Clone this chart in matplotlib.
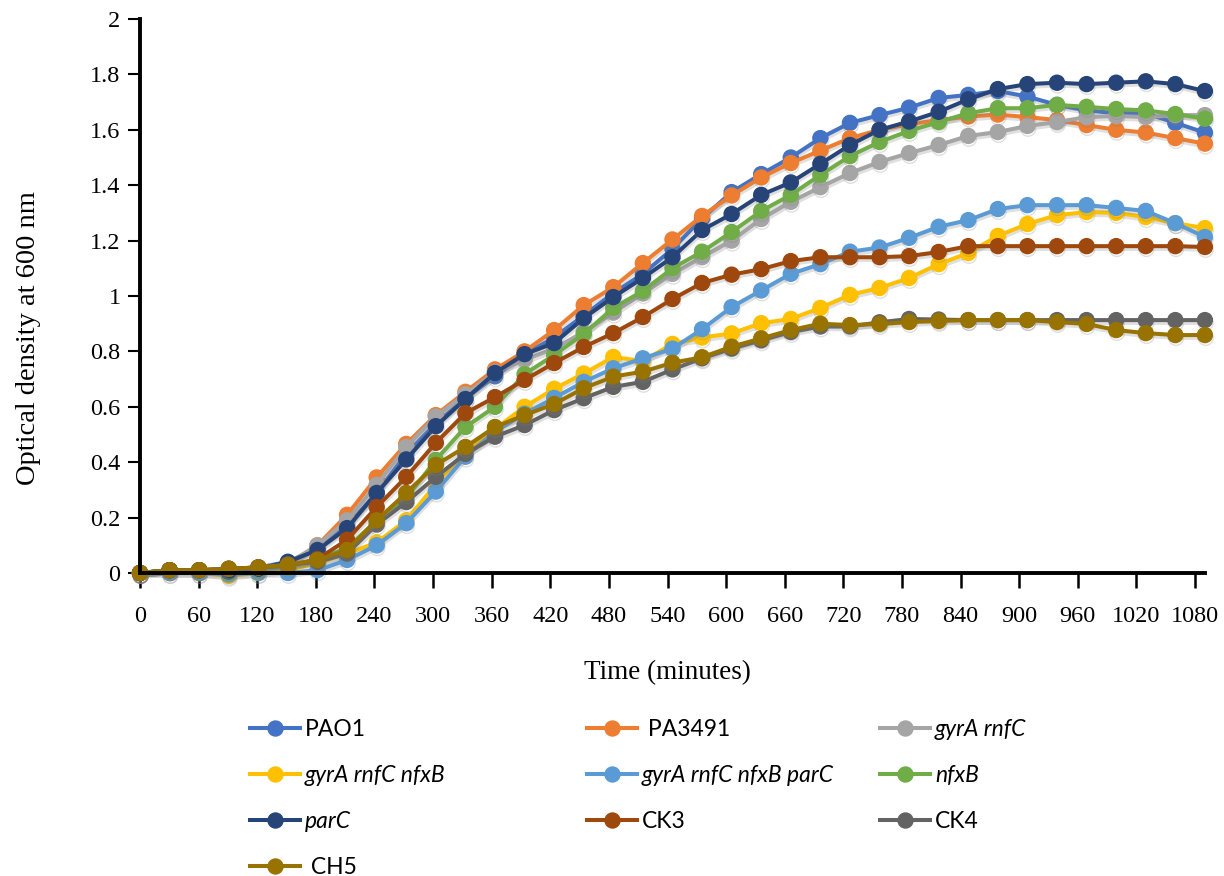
import numpy as np
import matplotlib
matplotlib.use("Agg")
import matplotlib.pyplot as plt
import matplotlib.patheffects as pe
from matplotlib.lines import Line2D

# sampling times (minutes), one reading every 30 min
times = np.arange(0, 1081, 30)

# OD600 readings per strain
pao1 = [0, 0.01, 0.01, 0.01, 0.02, 0.04, 0.09, 0.17, 0.29, 0.43, 0.54, 0.63, 0.71, 0.79, 0.85, 0.93, 1.01,
        1.08, 1.17, 1.28, 1.375, 1.44, 1.50, 1.57, 1.625, 1.653, 1.68, 1.715, 1.726, 1.74, 1.72, 1.69, 1.67,
        1.66, 1.66, 1.625, 1.59]
pa3491 = [0, 0.01, 0.01, 0.015, 0.02, 0.03, 0.10, 0.21, 0.345, 0.466, 0.57, 0.654, 0.735, 0.80, 0.877, 0.967,
          1.032, 1.119, 1.204, 1.289, 1.363, 1.428, 1.48, 1.525, 1.57, 1.60, 1.62, 1.635, 1.648, 1.655, 1.646,
          1.635, 1.617, 1.60, 1.59, 1.57, 1.55]
gyra_rnfc = [0, 0.01, 0.01, 0.015, 0.02, 0.035, 0.10, 0.19, 0.318, 0.455, 0.565, 0.645, 0.725, 0.77, 0.81,
             0.87, 0.94, 1.01, 1.08, 1.14, 1.20, 1.278, 1.34, 1.393, 1.444, 1.484, 1.516, 1.545, 1.578, 1.592,
             1.614, 1.628, 1.646, 1.65, 1.646, 1.653, 1.653]
gyra_rnfc_nfxb = [0, 0.0, 0.0, -0.01, 0.0, 0.01, 0.035, 0.07, 0.11, 0.19, 0.32, 0.44, 0.52, 0.60, 0.665, 0.72,
                  0.78, 0.765, 0.827, 0.85, 0.865, 0.902, 0.917, 0.957, 1.004, 1.029, 1.065, 1.115, 1.155,
                  1.217, 1.26, 1.292, 1.303, 1.30, 1.285, 1.263, 1.245]
gyra_rnfc_nfxb_parc = [0, 0.0, 0.0, -0.005, 0.0, 0.0, 0.01, 0.047, 0.10, 0.18, 0.294, 0.42, 0.51, 0.575, 0.632,
                       0.69, 0.739, 0.775, 0.81, 0.88, 0.96, 1.02, 1.08, 1.115, 1.16, 1.175, 1.21, 1.25, 1.274,
                       1.314, 1.328, 1.328, 1.328, 1.318, 1.307, 1.263, 1.213]
nfxb = [0, 0.01, 0.01, 0.0, 0.01, 0.02, 0.05, 0.09, 0.19, 0.27, 0.408, 0.527, 0.60, 0.718, 0.787, 0.863, 0.957,
        1.018, 1.10, 1.16, 1.231, 1.307, 1.365, 1.437, 1.505, 1.556, 1.596, 1.628, 1.66, 1.678, 1.678, 1.69,
        1.683, 1.675, 1.67, 1.657, 1.64]
parc = [0, 0.01, 0.01, 0.005, 0.015, 0.04, 0.083, 0.162, 0.289, 0.41, 0.53, 0.628, 0.722, 0.79, 0.83, 0.92,
        0.996, 1.065, 1.14, 1.238, 1.296, 1.365, 1.41, 1.477, 1.545, 1.60, 1.63, 1.665, 1.71, 1.747, 1.765,
        1.77, 1.765, 1.77, 1.775, 1.765, 1.74]
ck3 = [0, 0.01, 0.01, 0.015, 0.02, 0.025, 0.05, 0.12, 0.238, 0.347, 0.47, 0.577, 0.635, 0.697, 0.758, 0.816,
       0.866, 0.924, 0.989, 1.047, 1.077, 1.097, 1.126, 1.14, 1.14, 1.14, 1.144, 1.159, 1.18, 1.18, 1.18, 1.18,
       1.18, 1.18, 1.18, 1.18, 1.177]
ck4 = [0, 0.01, 0.01, 0.015, 0.02, 0.03, 0.04, 0.07, 0.175, 0.256, 0.347, 0.43, 0.492, 0.534, 0.588, 0.631,
       0.672, 0.69, 0.735, 0.775, 0.81, 0.84, 0.87, 0.89, 0.89, 0.905, 0.917, 0.915, 0.913, 0.913, 0.913,
       0.913, 0.913, 0.913, 0.913, 0.913, 0.913]
ch5 = [0, 0.01, 0.01, 0.015, 0.02, 0.03, 0.047, 0.083, 0.19, 0.289, 0.39, 0.455, 0.527, 0.57, 0.61, 0.667,
       0.709, 0.727, 0.759, 0.779, 0.817, 0.847, 0.877, 0.90, 0.895, 0.899, 0.906, 0.91, 0.913, 0.913, 0.913,
       0.906, 0.899, 0.877, 0.866, 0.859, 0.859]

labels = ["PAO1", " PA3491", "gyrA rnfC", "gyrA rnfC nfxB", "gyrA rnfC nfxB parC", "nfxB",
          "parC", "CK3", "CK4", " CH5"]
italic = [False, False, True, True, True, True, True, False, False, False]
series = [pao1, pa3491, gyra_rnfc, gyra_rnfc_nfxb, gyra_rnfc_nfxb_parc, nfxb, parc, ck3, ck4, ch5]
colors = ["#4472C4", "#ED7D31", "#A5A5A5", "#FFC000", "#5B9BD5", "#70AD47",
          "#264478", "#9E480E", "#636363", "#997300"]

tick_labels = np.arange(0, 1081, 60)

fig = plt.figure(figsize=(12.24, 8.76), dpi=100)
ax = fig.add_axes([0.1144, 0.3459, 0.870, 0.6324])

shadow = [pe.SimpleLineShadow(offset=(0.5, -2), shadow_color="gray", alpha=0.25), pe.Normal()]
for vals, c in zip(series, colors):
    ax.plot(times, vals, color=c, lw=2.9, marker="o", markersize=10.8, clip_on=False,
            path_effects=shadow)

ax.set_xlim(0, 1080)
ax.set_ylim(0, 2)
# category-style axis: labels sit slightly left of the matching readings
ax.set_xticks(tick_labels * 0.9907)
ax.set_xticklabels([str(t) for t in tick_labels])
yt = np.arange(0, 2.01, 0.2)
ax.set_yticks(yt)
ax.set_yticklabels([f"{v:g}" for v in np.round(yt, 1)])

serif = "Liberation Serif"
for lab in ax.get_xticklabels() + ax.get_yticklabels():
    lab.set_fontfamily(serif)
    lab.set_fontsize(17.5)
ax.tick_params(axis="x", direction="out", length=11, width=1.8, pad=13)
ax.tick_params(axis="y", direction="out", length=9, width=1.5, pad=5)

for s in ["top", "right"]:
    ax.spines[s].set_visible(False)
for s in ["left", "bottom"]:
    ax.spines[s].set_linewidth(2.8)

ax.set_xlabel("Time (minutes)", fontfamily=serif, fontsize=19.5)
ax.xaxis.set_label_coords(0.495, -0.157)
ax.set_ylabel("Optical density at 600 nm", fontfamily=serif, fontsize=20.5)
ax.yaxis.set_label_coords(-0.093, 0.424)

# legend: three columns laid out like the original
col_x = [250, 587, 880]
handles = [Line2D([], [], color=c, lw=2.9, marker="o", markersize=10.8) for c in colors]
for col in range(3):
    idx = list(range(col, len(labels), 3))
    leg = fig.legend([handles[i] for i in idx], [labels[i] for i in idx],
                     loc="upper left", bbox_to_anchor=(col_x[col] / 1224, 1 - 719 / 876),
                     frameon=False, handlelength=2.2, handletextpad=0.2, labelspacing=1.09,
                     borderaxespad=0, borderpad=0, prop={"family": "Lato", "size": 16.5})
    for t, i in zip(leg.get_texts(), idx):
        if italic[i]:
            t.set_style("italic")

fig.savefig("out.png", dpi=100)
